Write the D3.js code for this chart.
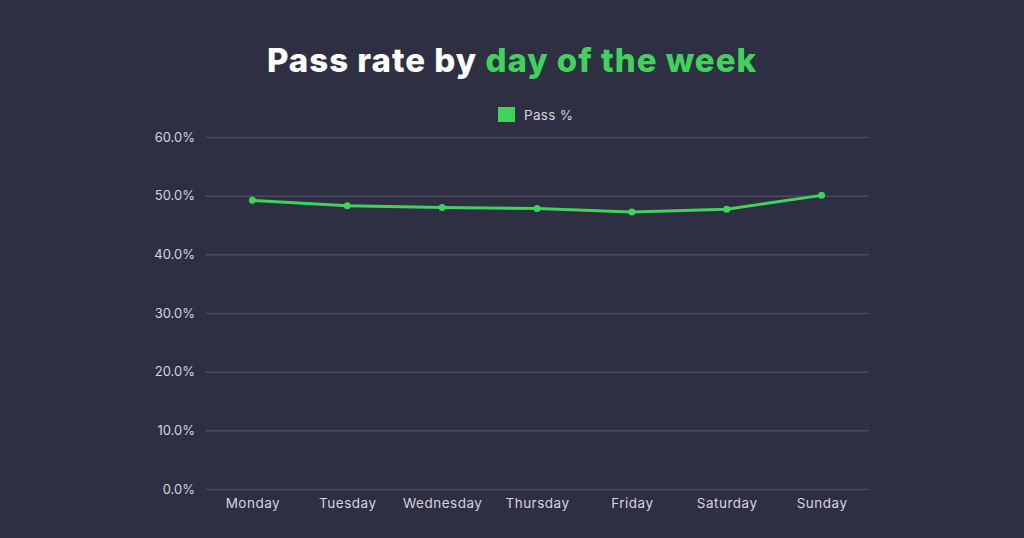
<!DOCTYPE html>
<html>
  <head>
    <meta charset="utf-8">
    <title>Pass rate by day of the week</title>
    <script src="https://d3js.org/d3.v7.min.js" charset="utf-8"></script>
    <style>
      body{
        margin: 0;
        background-color: #2e2f42;
        font-family: 'Inter', 'Noto Sans', sans-serif;
      }
      svg {
        display: block;
        background-color: #2e2f42;
      }
      .tick line{
        stroke: #4a4b5e;
        stroke-width: 1.5;
      }
      .domain{
        display: none;
      }
      .tick text{
        fill: #d4d4dc;
        font-size: 13px;
        font-family: 'Inter', 'Noto Sans', sans-serif;
      }
    </style>
  </head>
  <body>
    <div id="chart"></div>
    <script>

    // data
    var days = ["Monday", "Tuesday", "Wednesday", "Thursday", "Friday", "Saturday", "Sunday"];
    var passRate = [49.2, 48.3, 48.0, 47.8, 47.2, 47.7, 50.05];
    var yTicks = [0, 10, 20, 30, 40, 50, 60];

    var green = "#3fd35a";

    //begin: layout conf.
    var width = 1024,
        height = 538,
        margin = {
            top: 137,
            right: 155,
            bottom: 49,
            left: 205
        };

    var svg = d3.select("#chart").append("svg").attr("width", width).attr("height", height);

    var xScale = d3.scalePoint().domain(days)
        .range([margin.left, width - margin.right])
        .padding(0.5);

    var yScale = d3.scaleLinear().domain([0, 60]).range([height - margin.bottom, margin.top]);

    // gridlines + y labels
    var yAxis = svg.append("g").attr("class", "y-axis")
        .attr("transform", `translate(${margin.left}, 0)`)
        .call(d3.axisLeft(yScale)
            .tickValues(yTicks)
            .tickSize(-(width - margin.left - margin.right))
            .tickPadding(10)
            .tickFormat(d => d.toFixed(1) + "%"));

    // baseline slightly lighter
    yAxis.selectAll(".tick").filter(d => d === 0).select("line")
        .attr("stroke", "#5a5b6e");

    var xAxis = svg.append("g").attr("class", "x-axis")
        .attr("transform", `translate(0, ${height - margin.bottom})`)
        .call(d3.axisBottom(xScale).tickSize(0).tickPadding(9));

    xAxis.selectAll(".tick text")
        .style("font-size", "13.5px")
        .style("letter-spacing", "0.5px");

    // line
    var data = days.map((d, i) => ({day: d, value: passRate[i]}));

    var line = d3.line()
        .x(d => xScale(d.day))
        .y(d => yScale(d.value));

    svg.append("path")
        .datum(data)
        .attr("fill", "none")
        .attr("stroke", green)
        .attr("stroke-width", 3)
        .attr("stroke-linejoin", "round")
        .attr("d", line);

    svg.selectAll("circle.pt")
        .data(data)
        .enter().append("circle")
        .attr("class", "pt")
        .attr("cx", d => xScale(d.day))
        .attr("cy", d => yScale(d.value))
        .attr("r", 3.5)
        .attr("fill", green);

    // title
    var title = svg.append("text")
        .attr("x", width / 2)
        .attr("y", 72)
        .attr("text-anchor", "middle")
        .style("font-family", "'Inter', 'Noto Sans', sans-serif")
        .style("font-weight", 800)
        .style("font-size", "33px")
        .style("letter-spacing", "1px");
    title.append("tspan").attr("fill", "#ffffff").text("Pass rate by ");
    title.append("tspan").attr("fill", green).text("day of the week");

    // legend
    var legend = svg.append("g").attr("transform", "translate(498,107)");
    legend.append("rect")
        .attr("width", 17)
        .attr("height", 15)
        .attr("fill", green);
    legend.append("text")
        .attr("x", 26)
        .attr("y", 13)
        .attr("fill", "#d4d4dc")
        .style("font-size", "13.5px")
        .style("letter-spacing", "0.3px")
        .text("Pass %");

    </script>
  </body>
</html>
